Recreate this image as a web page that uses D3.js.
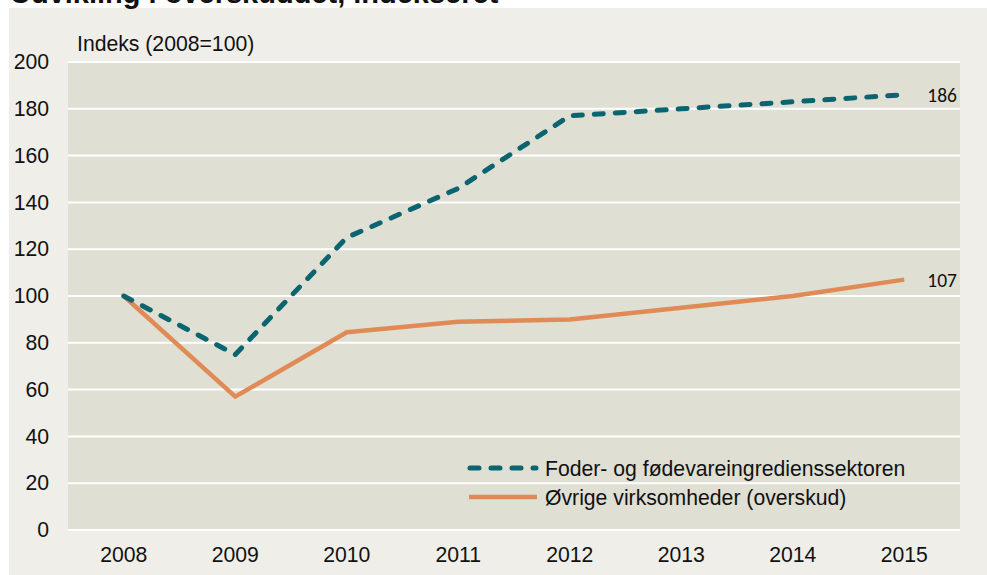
<!DOCTYPE html>
<html><head><meta charset="utf-8">
<script src="https://cdn.jsdelivr.net/npm/d3@7"></script>
<style>body{margin:0;background:#fff;}svg{display:block;font-family:"Liberation Sans",Arial,sans-serif;}</style>
</head><body><svg id="c" width="987" height="575"></svg>
<script>
const years = ["2008","2009","2010","2011","2012","2013","2014","2015"];
const foder = [100, 75, 125, 146, 177, 180, 183, 186];
const oevrige = [100, 57, 84.5, 89, 90, 95, 100, 107];
const yTicks = [0,20,40,60,80,100,120,140,160,180,200];
const seriesNames = ["Foder- og fødevareingredienssektoren","Øvrige virksomheder (overskud)"];
const title = "Udvikling i overskuddet, indekseret";
const yLabel = "Indeks (2008=100)";

const svg = d3.select("#c");
const m = {l:68, r:960, t:62, b:530};
const FS = 21.2;
svg.append("rect").attr("x",9).attr("y",8).attr("width",978).attr("height",567).attr("fill","#efeee8");
svg.append("text").attr("x",10).attr("y",2.5).attr("font-weight","bold").attr("font-size",29).attr("fill","#111").text(title);
svg.append("rect").attr("x",m.l).attr("y",m.t).attr("width",m.r-m.l).attr("height",m.b-m.t).attr("fill","#e0dfd4");

const x = d3.scaleBand().domain(years).range([m.l,m.r]);
const y = d3.scaleLinear().domain([0,200]).range([m.b,m.t]);

svg.append("g").selectAll("line").data(yTicks).join("line")
  .attr("x1",m.l).attr("x2",m.r).attr("y1",d=>y(d)).attr("y2",d=>y(d))
  .attr("stroke","#fff").attr("stroke-width",2);

const ya = svg.append("g").attr("transform",`translate(${m.l},0)`)
  .call(d3.axisLeft(y).tickValues(yTicks).tickSize(0).tickPadding(19));
ya.select(".domain").remove();
ya.selectAll("text").attr("font-size",FS).attr("fill","#111").attr("font-family","Liberation Sans, Arial, sans-serif");

const xa = svg.append("g").attr("transform",`translate(0,${m.b})`)
  .call(d3.axisBottom(x).tickSize(0).tickPadding(17));
xa.select(".domain").remove();
xa.selectAll("text").attr("font-size",FS).attr("fill","#111").attr("font-family","Liberation Sans, Arial, sans-serif");

svg.append("text").attr("x",77).attr("y",51).attr("font-size",FS).attr("fill","#111").text(yLabel);

const line = d3.line().x((d,i)=>x(years[i])+x.bandwidth()/2).y(d=>y(d));
svg.append("path").datum(oevrige).attr("d",line).attr("fill","none")
  .attr("stroke","#e08a56").attr("stroke-width",4.5).attr("stroke-linejoin","round");
svg.append("path").datum(foder).attr("d",line).attr("fill","none")
  .attr("stroke","#0b6570").attr("stroke-width",5).attr("stroke-linecap","round")
  .attr("stroke-dasharray","9,12").attr("stroke-linejoin","round");

const lastX = x(years[years.length-1])+x.bandwidth()/2;
[foder,oevrige].forEach(s=>{
  svg.append("text").attr("x",lastX+23).attr("y",y(s[s.length-1])+7.5)
    .attr("font-size",19.5).attr("font-family","Carlito, 'Open Sans', sans-serif").attr("fill","#111").text(s[s.length-1]);
});

// legend
const lg = svg.append("g");
lg.append("line").attr("x1",470).attr("x2",536).attr("y1",468).attr("y2",468)
  .attr("stroke","#0b6570").attr("stroke-width",5).attr("stroke-linecap","round").attr("stroke-dasharray","9,12");
lg.append("line").attr("x1",469).attr("x2",537).attr("y1",497).attr("y2",497)
  .attr("stroke","#e08a56").attr("stroke-width",4.5);
lg.append("text").attr("x",545).attr("y",475.5).attr("font-size",FS).attr("fill","#111").text(seriesNames[0]);
lg.append("text").attr("x",545).attr("y",504.5).attr("font-size",FS).attr("fill","#111").text(seriesNames[1]);
</script></body></html>
